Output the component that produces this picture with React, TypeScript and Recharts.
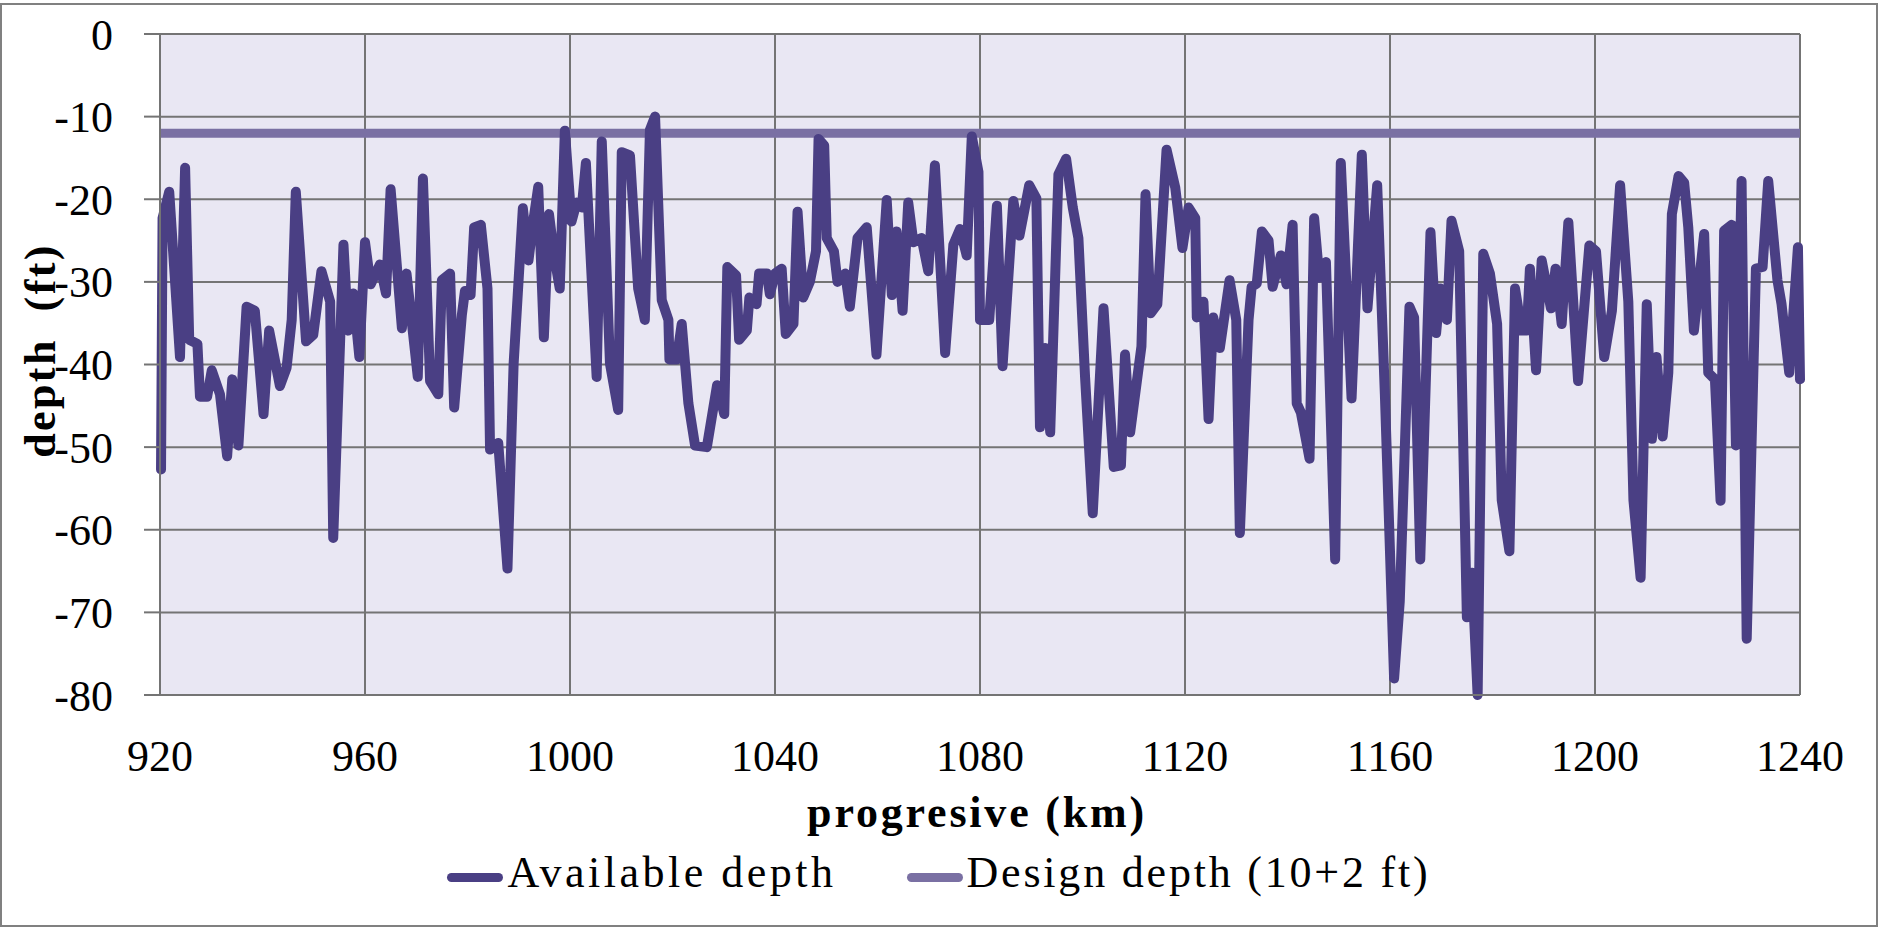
import React from 'react';
import { LineChart, Line, XAxis, YAxis, CartesianGrid, Legend, Label } from 'recharts';

// Progressive distance (km) of each sounding of the available depth
const progressiveKm = [
  920.2, 920.5, 921.8, 923.9, 924.9, 925.7, 927.3, 927.8, 929.2, 930.1,
  931.7, 933.1, 934.1, 935.3, 936.9, 938.5, 940.2, 941.3, 943.4, 944.7,
  945.7, 946.5, 948.5, 949.9, 951.5, 953.2, 953.8, 955.8, 956.7, 957.7,
  958.9, 960.0, 961.1, 962.9, 964.1, 965.0, 967.2, 968.1, 970.3, 971.3,
  972.7, 974.3, 975.0, 976.6, 977.4, 978.9, 979.5, 980.6, 981.3, 982.6,
  983.9, 984.4, 986.0, 987.8, 989.0, 990.8, 991.9, 992.8, 993.8, 994.9,
  995.9, 996.9, 998.0, 999.0, 1000.3, 1001.3, 1002.3, 1003.1, 1005.2, 1006.2,
  1007.8, 1009.4, 1010.1, 1011.7, 1013.3, 1014.6, 1015.6, 1016.6, 1017.9, 1019.2,
  1019.4, 1020.8, 1021.8, 1023.1, 1024.4, 1026.7, 1028.7, 1030.1, 1030.7, 1032.4,
  1033.0, 1034.5, 1035.0, 1036.4, 1036.9, 1038.4, 1039.0, 1040.0, 1041.3, 1042.1,
  1043.6, 1044.4, 1045.5, 1046.8, 1048.0, 1048.5, 1049.6, 1050.1, 1051.5, 1052.2,
  1053.7, 1054.6, 1056.1, 1057.9, 1059.8, 1061.8, 1062.8, 1063.7, 1064.9, 1066.0,
  1067.0, 1068.6, 1069.9, 1071.2, 1073.2, 1074.8, 1076.1, 1077.4, 1078.4, 1079.7,
  1080.0, 1081.8, 1083.3, 1084.4, 1086.5, 1087.7, 1089.6, 1091.0, 1091.7, 1092.7,
  1093.7, 1095.3, 1096.8, 1098.1, 1099.2, 1100.5, 1102.0, 1104.1, 1106.1, 1107.5,
  1108.3, 1109.3, 1111.5, 1112.3, 1113.3, 1114.6, 1116.4, 1118.1, 1119.5, 1120.7,
  1122.0, 1122.3, 1123.6, 1124.6, 1125.5, 1126.8, 1128.7, 1130.0, 1130.7, 1132.4,
  1133.0, 1134.0, 1135.0, 1136.3, 1137.1, 1138.7, 1139.8, 1141.0, 1141.8, 1142.6,
  1144.3, 1145.2, 1146.2, 1147.5, 1149.3, 1150.4, 1152.5, 1154.5, 1155.6, 1157.5,
  1159.0, 1160.8, 1161.9, 1163.8, 1164.7, 1165.9, 1167.9, 1169.0, 1169.8, 1171.1,
  1172.0, 1173.5, 1175.0, 1176.0, 1177.1, 1178.2, 1179.5, 1180.9, 1181.8, 1183.3,
  1184.4, 1185.7, 1186.7, 1187.3, 1188.5, 1189.6, 1191.4, 1192.3, 1193.5, 1194.8,
  1196.7, 1198.9, 1200.2, 1201.8, 1203.3, 1204.9, 1206.5, 1207.5, 1208.9, 1210.1,
  1211.1, 1212.0, 1213.2, 1214.3, 1215.0, 1216.3, 1217.4, 1218.2, 1219.3, 1221.3,
  1222.1, 1223.4, 1224.5, 1225.2, 1226.7, 1227.5, 1228.6, 1229.6, 1231.4, 1232.7,
  1233.8, 1235.6, 1236.4, 1237.9, 1239.6, 1240.0,
];

// Available depth (ft) at each progressive
const availableDepth = [
  -52.7, -22.3, -19.1, -39.1, -16.2, -37.0, -37.5, -43.9, -43.9, -40.7,
  -43.6, -51.1, -41.8, -49.8, -33.0, -33.5, -46.0, -35.9, -42.6, -40.4,
  -34.6, -19.1, -37.2, -36.4, -28.7, -32.4, -61.0, -25.5, -35.9, -31.4,
  -39.1, -25.2, -30.3, -27.9, -31.4, -18.8, -35.6, -29.0, -41.5, -17.5,
  -42.0, -43.6, -29.8, -29.0, -45.2, -34.0, -31.1, -31.6, -23.4, -23.1,
  -30.8, -50.3, -49.5, -64.7, -39.9, -21.1, -27.4, -22.8, -18.5, -36.7,
  -21.8, -26.8, -30.8, -11.7, -22.7, -20.4, -21.0, -15.6, -41.5, -13.0,
  -39.9, -45.5, -14.3, -14.7, -30.8, -34.6, -11.6, -10.0, -32.2, -34.6,
  -39.4, -39.4, -35.1, -44.7, -49.8, -50.0, -42.5, -46.0, -28.2, -29.2,
  -37.0, -35.9, -31.9, -32.7, -29.0, -29.0, -31.5, -29.0, -28.4, -36.3,
  -35.1, -21.5, -31.9, -30.0, -26.3, -12.7, -13.5, -24.7, -26.3, -30.0,
  -29.0, -33.0, -24.7, -23.4, -38.8, -20.1, -31.6, -23.9, -33.5, -20.4,
  -25.2, -24.7, -28.7, -15.9, -38.6, -25.5, -23.6, -26.8, -12.4, -16.7,
  -34.6, -34.6, -20.8, -40.2, -20.2, -24.4, -18.3, -19.9, -47.6, -38.0,
  -48.2, -17.0, -15.1, -21.0, -24.7, -41.5, -58.0, -33.2, -52.4, -52.2,
  -38.8, -48.2, -37.8, -19.4, -33.8, -32.7, -14.0, -18.6, -25.9, -21.0,
  -22.3, -34.3, -32.4, -46.6, -34.3, -38.0, -29.8, -34.6, -60.4, -34.6,
  -30.6, -30.2, -23.9, -25.0, -30.6, -26.8, -30.3, -23.1, -44.7, -45.8,
  -51.4, -22.3, -29.5, -27.6, -63.6, -15.6, -44.1, -14.6, -33.2, -18.3,
  -43.6, -78.0, -68.7, -33.0, -34.3, -63.6, -24.0, -36.2, -30.8, -34.6,
  -22.6, -26.3, -70.6, -65.2, -80.0, -26.6, -29.0, -35.1, -56.4, -62.6,
  -30.8, -35.9, -35.9, -28.4, -40.7, -27.4, -33.2, -28.4, -35.1, -22.8,
  -42.0, -25.6, -26.3, -39.1, -33.5, -18.3, -32.4, -56.4, -65.8, -32.7,
  -49.0, -39.1, -48.7, -41.0, -21.8, -17.2, -18.0, -23.4, -35.9, -24.2,
  -41.0, -41.8, -56.5, -23.8, -23.1, -49.8, -17.8, -73.2, -28.4, -28.2,
  -17.8, -29.8, -32.7, -41.0, -25.8, -41.8,
];

// Design depth (10 + 2 ft)
const designKm = [920, 1240];
const designDepth = [-12, -12];

const xTicks = [920, 960, 1000, 1040, 1080, 1120, 1160, 1200, 1240];
const yTicks = [0, -10, -20, -30, -40, -50, -60, -70, -80];

const seriesNames = ['Available depth', 'Design depth (10+2 ft)'];
const seriesColors = ['#4A3F84', '#7A70A3'];

const xTitle = 'progresive (km)';
const yTitle = 'depth  (ft)';

const availableData = progressiveKm.map((km, i) => ({ km, depth: availableDepth[i] }));
const designData = designKm.map((km, i) => ({ km, depth: designDepth[i] }));

const FONT = '"Liberation Serif", "Times New Roman", serif';
const GRID = '#747474';

const renderLegend = () => (
  <div
    style={{
      display: 'flex',
      justifyContent: 'center',
      alignItems: 'center',
      width: 1878,
      fontFamily: FONT,
      fontSize: 44,
      lineHeight: '44px',
      color: '#000',
    }}
  >
    {seriesNames.map((name, i) => (
      <div
        key={name}
        style={{ display: 'flex', alignItems: 'center', marginLeft: i === 0 ? 0 : 70 }}
      >
        <span
          style={{
            display: 'inline-block',
            width: 56,
            height: 9,
            borderRadius: 4.5,
            background: seriesColors[i],
            marginRight: 4,
            position: 'relative',
            top: 4,
          }}
        />
        <span style={{ letterSpacing: i === 0 ? 3.5 : 2.8, whiteSpace: 'pre' }}>{name}</span>
      </div>
    ))}
  </div>
);

export default function App() {
  return (
    <div style={{ position: 'absolute', left: 0, top: 0, width: 1878, height: 927, background: '#fff' }}>
      <div
        style={{
          position: 'absolute',
          left: 0,
          top: 3,
          width: 1878,
          height: 924,
          boxSizing: 'border-box',
          border: '2px solid #808080',
        }}
      />
      <div style={{ position: 'absolute', left: 0, top: 0 }}>
        <LineChart
          width={1878}
          height={927}
          margin={{ top: 34, right: 78, left: 0, bottom: 132 }}
          style={{ fontFamily: FONT }}
        >
          <CartesianGrid
            stroke={GRID}
            strokeWidth={2}
            fill="#E9E7F3"
            fillOpacity={1}
            horizontal
            vertical
          />
          <XAxis
            dataKey="km"
            type="number"
            domain={[920, 1240]}
            ticks={xTicks}
            interval={0}
            tickLine={false}
            tickSize={0}
            tickMargin={45}
            height={100}
            axisLine={{ stroke: GRID, strokeWidth: 2 }}
            tick={{ fill: '#000', fontSize: 44, fontFamily: FONT }}
            allowDecimals={false}
          >
            <Label
              content={(props: any) => {
                const vb = props.viewBox || { x: 160, y: 695, width: 1640, height: 100 };
                const cx = vb.x + vb.width / 2 - 3;
                const cy = vb.y + 132;
                return (
                  <text
                    x={cx}
                    y={cy}
                    textAnchor="middle"
                    fontFamily={FONT}
                    fontSize={44}
                    fontWeight="bold"
                    fill="#000"
                    style={{ letterSpacing: 2.8 }}
                  >
                    {xTitle}
                  </text>
                );
              }}
            />
          </XAxis>
          <YAxis
            type="number"
            domain={[-80, 0]}
            ticks={yTicks}
            interval={0}
            width={160}
            tickSize={16}
            tickMargin={31}
            tickLine={{ stroke: GRID, strokeWidth: 2 }}
            axisLine={{ stroke: GRID, strokeWidth: 2 }}
            tick={{ fill: '#000', fontSize: 44, fontFamily: FONT }}
          >
            <Label
              content={(props: any) => {
                const vb = props.viewBox || { x: 0, y: 34, width: 160, height: 661 };
                const cx = vb.x + 55;
                const cy = vb.y + vb.height / 2 - 14;
                return (
                  <text
                    x={cx}
                    y={cy}
                    transform={`rotate(-90 ${cx} ${cy})`}
                    textAnchor="middle"
                    fontFamily={FONT}
                    fontSize={44}
                    fontWeight="bold"
                    fill="#000"
                    style={{ letterSpacing: 2.4, whiteSpace: 'pre' }}
                  >
                    {yTitle}
                  </text>
                );
              }}
            />
          </YAxis>
          <Legend
            layout="horizontal"
            verticalAlign="middle"
            align="center"
            content={renderLegend}
            wrapperStyle={{ top: 851, left: 0, width: 1878 }}
          />
          <Line
            name={seriesNames[1]}
            data={designData}
            dataKey="depth"
            type="linear"
            stroke={seriesColors[1]}
            strokeWidth={9}
            dot={false}
            activeDot={false}
            isAnimationActive={false}
          />
          <Line
            name={seriesNames[0]}
            data={availableData}
            dataKey="depth"
            type="linear"
            stroke={seriesColors[0]}
            strokeWidth={10}
            strokeLinejoin="round"
            strokeLinecap="round"
            dot={false}
            activeDot={false}
            isAnimationActive={false}
          />
        </LineChart>
      </div>
    </div>
  );
}
